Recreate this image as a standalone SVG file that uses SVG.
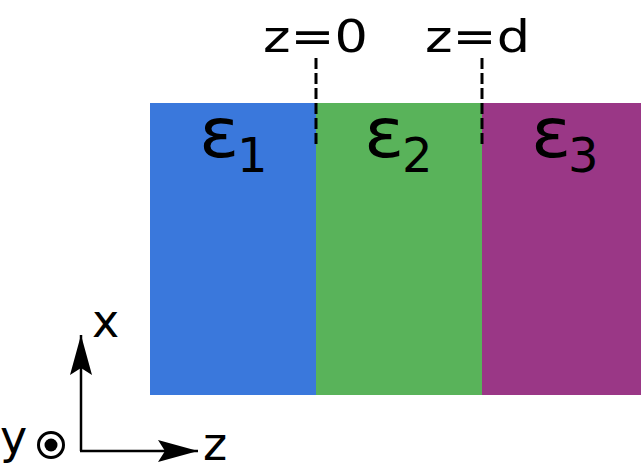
<svg xmlns="http://www.w3.org/2000/svg" width="641" height="464" viewBox="0 0 641 464">
<style>
.t{font-family:"DejaVu Sans","Liberation Sans",sans-serif;fill:#000}
.eps{font-size:69px}
.sub{font-size:48px}
.lab{font-size:45px}
.axl{font-size:46px}
.dash{stroke:#000;stroke-width:3;stroke-dasharray:11 4;fill:none}
.ax{stroke:#000;stroke-width:2.5;fill:none}
</style>
<defs>
<marker id="ah" markerUnits="userSpaceOnUse" viewBox="-42 -13 44 26" refX="0" refY="0" markerWidth="44" markerHeight="26" orient="auto">
<path d="M0,0 L-40,-11 L-33,0 L-40,11 Z" fill="#000"/>
</marker>
</defs>
<rect width="641" height="464" fill="#fff"/>
<g id="layer1">
<rect x="150" y="103" width="166" height="292" fill="#3a78dc"/>
<text class="t eps" transform="translate(199,157) scale(1.08,1)">ε</text>
<text class="t sub" x="237" y="172">1</text>
</g>
<g id="layer2">
<rect x="316" y="103" width="166" height="292" fill="#59b35a"/>
<text class="t eps" transform="translate(364,157) scale(1.08,1)">ε</text>
<text class="t sub" x="402" y="172">2</text>
</g>
<g id="layer3">
<rect x="482" y="103" width="159" height="292" fill="#9a3786"/>
<text class="t eps" transform="translate(531,157) scale(1.08,1)">ε</text>
<text class="t sub" x="568" y="172">3</text>
</g>
<g id="boundaries">
<line class="dash" x1="316" y1="58" x2="316" y2="145"/>
<line class="dash" x1="482" y1="58" x2="482" y2="145"/>
<text class="t lab" x="263" y="52" textLength="105" lengthAdjust="spacingAndGlyphs">z=0</text>
<text class="t lab" x="425" y="52" textLength="105" lengthAdjust="spacingAndGlyphs">z=d</text>
</g>
<g id="axes">
<line class="ax" x1="81" y1="451" x2="81" y2="335" marker-end="url(#ah)"/>
<line class="ax" x1="80" y1="451" x2="198" y2="451" marker-end="url(#ah)"/>
<text class="t axl" x="92" y="337">x</text>
<text class="t axl" x="203" y="460">z</text>
<text class="t axl" x="0" y="453">y</text>
<circle cx="51" cy="445" r="12.5" fill="none" stroke="#000" stroke-width="3"/>
<circle cx="51" cy="445" r="6.5" fill="#000"/>
</g>
</svg>
